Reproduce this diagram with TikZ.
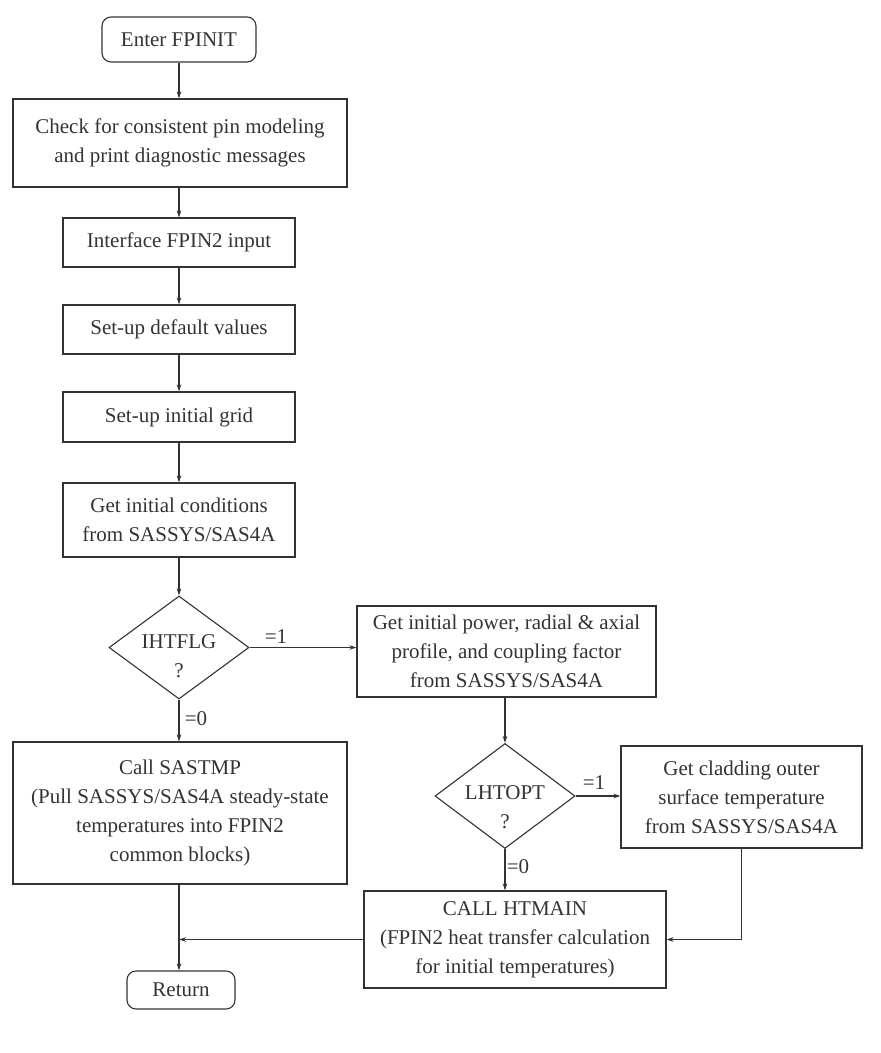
\documentclass[tikz,border=0pt]{standalone}
\usepackage{fontspec}
\setmainfont{Liberation Serif}
\usetikzlibrary{shapes.geometric,arrows.meta}
\definecolor{ink}{HTML}{333333}
\begin{document}
\begin{tikzpicture}[x=1pt,y=-1pt,
  font=\fontsize{21}{29}\selectfont, color=ink,
  box/.style={draw=ink, rectangle, align=center, inner sep=0pt, line width=1.1pt},
  term/.style={box, rounded corners=9pt},
  dec/.style={draw=ink, diamond, inner sep=0pt, line width=1.1pt, minimum width=140pt, minimum height=104pt},
  arr/.style={draw=ink, -{Stealth[length=7pt,width=4.5pt]}, line width=1.1pt},
  lbl/.style={inner sep=0pt}]
\useasboundingbox[fill=white] (0,0) rectangle (881,1053);

\node[term, minimum width=154pt, minimum height=45pt] (enter) at (179,39.5) {Enter FPINIT};
\node[box, minimum width=334pt, minimum height=88pt] (check) at (180,143) {Check for consistent pin modeling\\and print diagnostic messages};
\node[box, minimum width=232pt, minimum height=49pt] (iface) at (179,242.5) {Interface FPIN2 input};
\node[box, minimum width=232pt, minimum height=49pt] (defs) at (179,329.5) {Set-up default values};
\node[box, minimum width=232pt, minimum height=50pt] (grid) at (179,417) {Set-up initial grid};
\node[box, minimum width=232pt, minimum height=74pt] (cond) at (179,520) {Get initial conditions\\from SASSYS/SAS4A};
\node[dec, minimum height=103pt, label={[yshift=-9pt,align=center]center:IHTFLG\\?}] (ihtflg) at (179,647.5) {};
\node[box, minimum width=299pt, minimum height=91pt] (power) at (506.5,651.5) {Get initial power, radial \& axial\\profile, and coupling factor\\from SASSYS/SAS4A};
\node[box, minimum width=334pt, minimum height=142pt] (sastmp) at (180,813) {Call SASTMP\\(Pull SASSYS/SAS4A steady-state\\temperatures into FPIN2\\common blocks)};
\node[dec, minimum height=105pt, label={[yshift=-11pt,align=center]center:LHTOPT\\?}] (lhtopt) at (505,796) {};
\node[box, minimum width=241pt, minimum height=102pt] (clad) at (741.5,797) {Get cladding outer\\surface temperature\\from SASSYS/SAS4A};
\node[box, minimum width=302pt, minimum height=97pt] (htmain) at (515,939.5) {CALL HTMAIN\\(FPIN2 heat transfer calculation\\for initial temperatures)};
\node[term, minimum width=108pt, minimum height=38pt] (ret) at (181,990) {Return};

\node[lbl] (l1) at (276,637) {=1};
\node[lbl] (l0) at (196,719) {=0};
\node[lbl] (m1) at (594,783) {=1};
\node[lbl] (m0) at (518,867) {=0};

\coordinate (c0) at (179,0);
\coordinate (j) at (c0 |- htmain.west);

\draw[arr] (c0 |- enter.south) -- (c0 |- check.north);
\draw[arr] (c0 |- check.south) -- (c0 |- iface.north);
\draw[arr] (c0 |- iface.south) -- (c0 |- defs.north);
\draw[arr] (c0 |- defs.south) -- (c0 |- grid.north);
\draw[arr] (c0 |- grid.south) -- (c0 |- cond.north);
\draw[arr] (c0 |- cond.south) -- (ihtflg.north);
\draw[arr] (ihtflg.east) -- (ihtflg.east -| power.west);
\draw[arr] (ihtflg.south) -- (c0 |- sastmp.north);
\draw[arr] (lhtopt.north |- power.south) -- (lhtopt.north);
\draw[arr] (lhtopt.east) -- (lhtopt.east -| clad.west);
\draw[arr] (lhtopt.south) -- (lhtopt.south |- htmain.north);
\draw[arr] (clad.south) |- (htmain.east);
\draw[arr] (htmain.west) -- (j);
\draw[arr] (c0 |- sastmp.south) -- (c0 |- ret.north);
\end{tikzpicture}
\end{document}
